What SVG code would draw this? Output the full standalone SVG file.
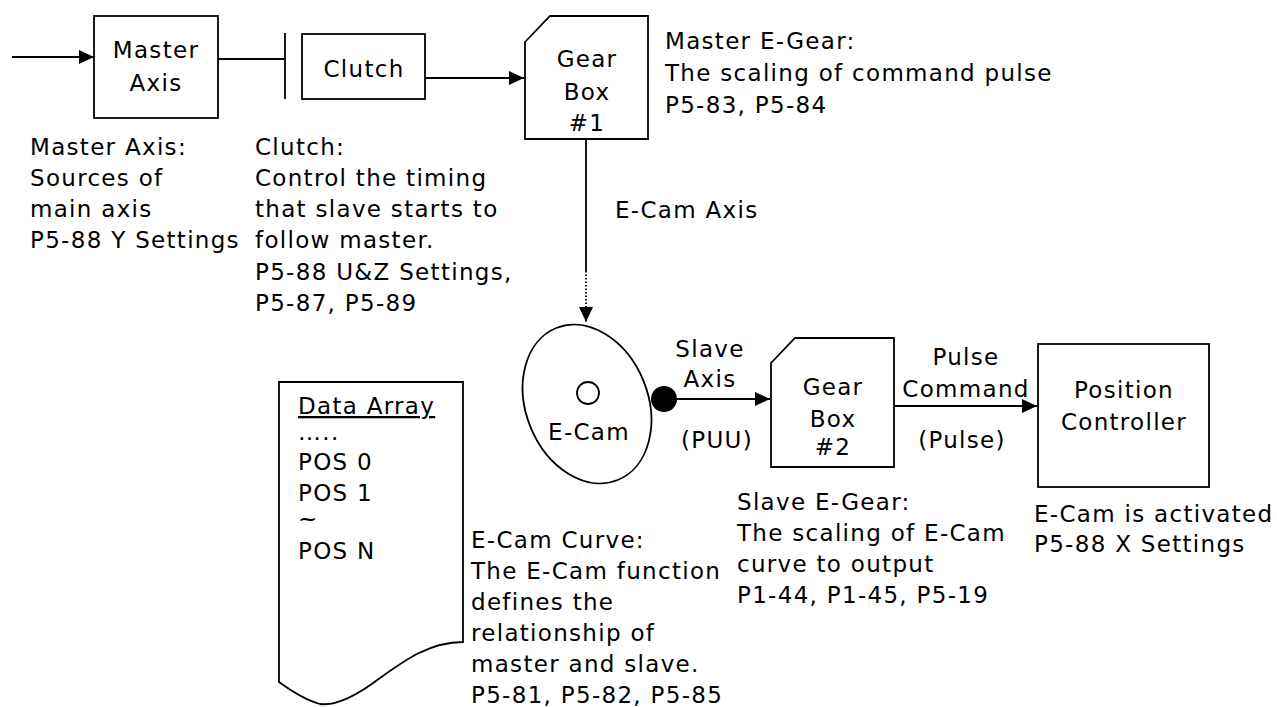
<svg xmlns="http://www.w3.org/2000/svg" width="1277" height="707" viewBox="0 0 1277 707">
<defs>
<style>
text{font-family:"DejaVu Sans","Liberation Sans",sans-serif;font-size:23px;letter-spacing:1.3px;fill:#000}
.c{text-anchor:middle}
.s{fill:none;stroke:#000;stroke-width:1.8}
.w{fill:#fff;stroke:#000;stroke-width:1.8}
</style>
<marker id="ah" markerWidth="16" markerHeight="14" refX="15" refY="7" orient="auto" markerUnits="userSpaceOnUse">
<path d="M0,0 L15,7 L0,14 Z" fill="#000"/>
</marker>
</defs>
<rect width="1277" height="707" fill="#fff"/>
<g id="connectors">
<line class="s" x1="12" y1="57" x2="94" y2="57" marker-end="url(#ah)"/>
<line class="s" x1="218" y1="59" x2="285" y2="59"/>
<line class="s" x1="285" y1="33" x2="285" y2="99"/>
<line class="s" x1="422" y1="78" x2="524" y2="78" marker-end="url(#ah)"/>
<line class="s" x1="586" y1="139" x2="586" y2="271"/>
<line class="s" x1="586" y1="271" x2="586" y2="322" stroke-dasharray="1.5 2" marker-end="url(#ah)"/>
<line class="s" x1="664" y1="399" x2="770" y2="399" marker-end="url(#ah)"/>
<line class="s" x1="894" y1="406" x2="1037" y2="406" marker-end="url(#ah)"/>
</g>
<g id="master-axis">
<rect class="w" x="94" y="16" width="124" height="102"/>
<text class="c" x="156" y="58">Master</text>
<text class="c" x="156" y="91">Axis</text>
</g>
<g id="clutch">
<rect class="w" x="302" y="34" width="123" height="65"/>
<text class="c" x="364" y="77">Clutch</text>
</g>
<g id="gearbox1">
<path class="w" d="M525,42 L550,16 L648,16 L648,139 L525,139 Z"/>
<text class="c" x="587" y="67">Gear</text>
<text class="c" x="587" y="100">Box</text>
<text class="c" x="587" y="131">#1</text>
</g>
<g id="ecam">
<ellipse class="s" cx="587" cy="404" rx="61" ry="82" transform="rotate(-22 587 404)"/>
<circle class="s" cx="588" cy="393" r="11"/>
<text class="c" x="589" y="440">E-Cam</text>
<circle cx="664" cy="399" r="13" fill="#000"/>
</g>
<g id="gearbox2">
<path class="w" d="M771,363 L795,338 L894,338 L894,467 L771,467 Z"/>
<text class="c" x="833" y="395">Gear</text>
<text class="c" x="833" y="427">Box</text>
<text class="c" x="833" y="455">#2</text>
</g>
<g id="position-controller">
<rect class="w" x="1038" y="344" width="171" height="143"/>
<text class="c" x="1124" y="398">Position</text>
<text class="c" x="1124" y="430">Controller</text>
</g>
<g id="data-array">
<path class="w" d="M279,382 H463 V642 C430,642 405,660 380,678 C355,697 335,706 320,704 C305,700 290,690 279,682 Z"/>
<text x="298" y="414" text-decoration="underline">Data Array</text>
<text x="298" y="440">…..</text>
<text x="298" y="470">POS 0</text>
<text x="298" y="501">POS 1</text>
<text x="298" y="527">~</text>
<text x="298" y="559">POS N</text>
</g>
<g id="labels">
<text x="30" y="155">Master Axis:</text>
<text x="30" y="186">Sources of</text>
<text x="30" y="217">main axis</text>
<text x="30" y="248">P5-88 Y Settings</text>
<text x="255" y="155">Clutch:</text>
<text x="255" y="186">Control the timing</text>
<text x="255" y="217">that slave starts to</text>
<text x="255" y="248">follow master.</text>
<text x="255" y="280">P5-88 U&amp;Z Settings,</text>
<text x="255" y="311">P5-87, P5-89</text>
<text x="665" y="49">Master E-Gear:</text>
<text x="665" y="81">The scaling of command pulse</text>
<text x="665" y="113">P5-83, P5-84</text>
<text x="615" y="218">E-Cam Axis</text>
<text class="c" x="710" y="357">Slave</text>
<text class="c" x="710" y="387">Axis</text>
<text class="c" x="717" y="448">(PUU)</text>
<text class="c" x="966" y="365">Pulse</text>
<text class="c" x="966" y="397">Command</text>
<text class="c" x="962" y="448">(Pulse)</text>
<text x="737" y="510">Slave E-Gear:</text>
<text x="737" y="541">The scaling of E-Cam</text>
<text x="737" y="572">curve to output</text>
<text x="737" y="603">P1-44, P1-45, P5-19</text>
<text x="1034" y="522">E-Cam is activated</text>
<text x="1034" y="552">P5-88 X Settings</text>
<text x="471" y="548">E-Cam Curve:</text>
<text x="471" y="579">The E-Cam function</text>
<text x="471" y="610">defines the</text>
<text x="471" y="641">relationship of</text>
<text x="471" y="672">master and slave.</text>
<text x="471" y="703">P5-81, P5-82, P5-85</text>
</g>
</svg>
